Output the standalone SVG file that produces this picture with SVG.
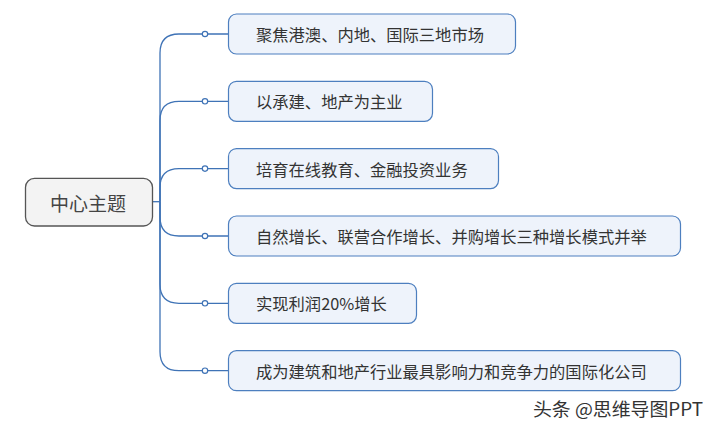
<svg xmlns="http://www.w3.org/2000/svg" width="715" height="431" viewBox="0 0 715 431">
<style>
.node rect{fill:#eef3fb;stroke:#4d7fbf;stroke-width:1.2}
.node text{font-family:"Noto Sans CJK SC","Noto Sans",sans-serif;font-size:16.3px;fill:#333;dominant-baseline:central}
.root rect{fill:#f3f3f3;stroke:#555;stroke-width:1.3}
.root text{font-family:"Noto Sans CJK SC","Noto Sans",sans-serif;font-size:19px;fill:#444;dominant-baseline:central;text-anchor:middle}
.conn path{fill:none;stroke:#3f73b6;stroke-width:1.3}
.conn circle{fill:#fff;stroke:#3f73b6;stroke-width:1.2}
.wm{font-family:"Noto Sans CJK SC","Noto Sans",sans-serif;font-size:18px;fill:#333;dominant-baseline:central}
</style>
<rect width="715" height="431" fill="#fff"/>
<g class="conn" id="connectors">
<path d="M152.5 201.7H160"/>
<path d="M160 201.7V53 Q160 34 179 34H202.3"/>
<path d="M160 201.7V120.3 Q160 101.3 179 101.3H202.3"/>
<path d="M160 201.7V187.6 Q160 168.6 179 168.6H202.3"/>
<path d="M160 201.7V217 Q160 236 179 236H202.3"/>
<path d="M160 201.7V284.3 Q160 303.3 179 303.3H202.3"/>
<path d="M160 201.7V351.7 Q160 370.7 179 370.7H202.3"/>
<path d="M207.7 34H228.5M207.7 101.3H228.5M207.7 168.6H228.5M207.7 236H228.5M207.7 303.3H228.5M207.7 370.7H228.5"/>
<circle cx="205" cy="34" r="2.7"/>
<circle cx="205" cy="101.3" r="2.7"/>
<circle cx="205" cy="168.6" r="2.7"/>
<circle cx="205" cy="236" r="2.7"/>
<circle cx="205" cy="303.3" r="2.7"/>
<circle cx="205" cy="370.7" r="2.7"/>
</g>
<g class="root" id="root">
<rect x="25.5" y="178.3" width="127" height="47.7" rx="9"/>
<text x="88" y="202">中心主题</text>
</g>
<g class="node" id="n1">
<rect x="228.5" y="14" width="287" height="40" rx="8"/>
<text x="256" y="34">聚焦港澳、内地、国际三地市场</text>
</g>
<g class="node" id="n2">
<rect x="228.5" y="81.3" width="204" height="40" rx="8"/>
<text x="256" y="101.3">以承建、地产为主业</text>
</g>
<g class="node" id="n3">
<rect x="228.5" y="148.6" width="270" height="40" rx="8"/>
<text x="256" y="168.6">培育在线教育、金融投资业务</text>
</g>
<g class="node" id="n4">
<rect x="228.5" y="216" width="452" height="40" rx="8"/>
<text x="256" y="236">自然增长、联营合作增长、并购增长三种增长模式并举</text>
</g>
<g class="node" id="n5">
<rect x="228.5" y="283.3" width="188" height="40" rx="8"/>
<text x="256" y="303.3">实现利润20%增长</text>
</g>
<g class="node" id="n6">
<rect x="228.5" y="350.7" width="452" height="40" rx="8"/>
<text x="256" y="370.7">成为建筑和地产行业最具影响力和竞争力的国际化公司</text>
</g>
<text class="wm" x="533" y="408" textLength="170" lengthAdjust="spacingAndGlyphs">头条 @思维导图PPT</text>
</svg>
